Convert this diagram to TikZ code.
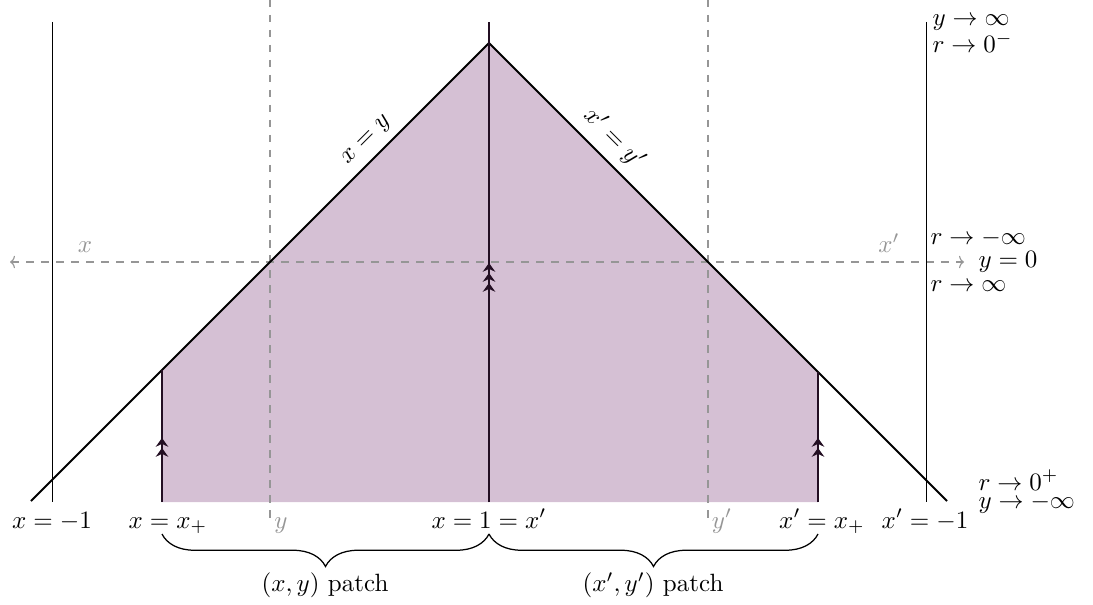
\documentclass[tikz,border=0pt]{standalone}
\usetikzlibrary{arrows.meta,decorations.pathreplacing}
\definecolor{patchcol}{RGB}{213,192,212}
\definecolor{dk}{RGB}{35,15,35}
\definecolor{gr}{RGB}{150,150,150}
\tikzset{hd/.tip={Stealth[length=3.5pt,width=5pt]}}
\begin{document}
\begin{tikzpicture}[x=0.4pt,y=-0.4pt,
  lab/.style={inner sep=0pt},
  grlab/.style={inner sep=0pt,text=gr},
  dsh/.style={draw=gr,dashed,line width=0.45pt},
  thinline/.style={line width=0.35pt},
  mainline/.style={line width=0.75pt},
  bracestyle/.style={decorate,decoration={brace,amplitude=13pt,mirror},line width=0.5pt}
]
\useasboundingbox (0,0) rectangle (1093,605);
% coordinates
\coordinate (L) at (31,501);
\coordinate (A) at (489,43);
\coordinate (R) at (947,501);
\coordinate (Atop) at (489,22);
\coordinate (Abot) at (489,502);
\coordinate (P1) at (162,502);
\coordinate (P1t) at (162,370);
\coordinate (P2) at (818,502);
\coordinate (P2t) at (818,372);
\coordinate (m1) at (489,263);
\coordinate (m2) at (162,438);
\coordinate (m3) at (818,438);
\coordinate (VLt) at (52,22);
\coordinate (VLb) at (52,502);
\coordinate (VRt) at (926,22);
\coordinate (VRb) at (926,502);
\coordinate (DYt) at (270,0);
\coordinate (DYb) at (270,525);
\coordinate (DYpt) at (708,0);
\coordinate (DYpb) at (708,525);
\coordinate (HL) at (10,262);
\coordinate (HR) at (964,262);
\coordinate (B1) at (162,534);
\coordinate (B2) at (489,534);
\coordinate (B3) at (818,534);
% shaded patch
\fill[patchcol] (P1) -- (P1t) -- (A) -- (P2t) -- (P2) -- cycle;
% dashed coordinate lines
\draw[dsh] (DYt) -- (DYb);
\draw[dsh] (DYpt) -- (DYpb);
\draw[dsh,{To[length=2pt,width=5pt]}-{To[length=2pt,width=5pt]}] (HL) -- (HR);
% vertical boundary lines
\draw[thinline] (VLt) -- (VLb);
\draw[thinline] (VRt) -- (VRb);
% diagonals
\draw[mainline] (L) -- (A) node[pos=0.76,sloped,above] {$x=y$}
  -- (R) node[pos=0.241,sloped,above] {$x'=y'$};
% identified edges
\draw[mainline,dk] (Abot) -- (Atop);
\draw[mainline,dk,-{hd[sep=0.5pt]hd[sep=0.5pt]hd}] (Abot) -- (m1);
\draw[mainline,dk] (P1) -- (P1t);
\draw[mainline,dk,-{hd[sep=0.5pt]hd}] (P1) -- (m2);
\draw[mainline,dk] (P2) -- (P2t);
\draw[mainline,dk,-{hd[sep=0.5pt]hd}] (P2) -- (m3);
% bottom labels
\node[lab,anchor=base] (lm1) at (52,528) {$x=-1$};
\node[lab,anchor=base] (lxp) at (168,528) {$x=x_+$};
\node[lab,anchor=base] (l1) at (489,528) {$x=1=x'$};
\node[lab,anchor=base] (lxpp) at (822,528) {$x'=x_+$};
\node[lab,anchor=base] (lm1p) at (925,528) {$x'=-1$};
% gray coordinate labels
\node[grlab,anchor=base] (gx) at (85,253) {$x$};
\node[grlab,anchor=base] (gxp) at (889,253) {$x'$};
\node[grlab,anchor=base] (gy) at (281,528) {$y$};
\node[grlab,anchor=base] (gyp) at (722,528) {$y'$};
% right labels
\node[lab,anchor=base west] (t1) at (932,26) {$y\to\infty$};
\node[lab,anchor=base west] (t2) at (932,53) {$r\to0^-$};
\node[lab,anchor=base west] (c1) at (930,245) {$r\to-\infty$};
\node[lab,anchor=base west] (c2) at (978,268) {$y=0$};
\node[lab,anchor=base west] (c3) at (930,292) {$r\to\infty$};
\node[lab,anchor=base west] (b1) at (978,490) {$r\to0^+$};
\node[lab,anchor=base west] (b2) at (978,508) {$y\to-\infty$};
% braces
\draw[bracestyle] (B1) -- (B2);
\draw[bracestyle] (B2) -- (B3);
\node[lab] (pl) at (325,585) {$(x,y)$ patch};
\node[lab] (pr) at (653,585) {$(x',y')$ patch};
\end{tikzpicture}
\end{document}
